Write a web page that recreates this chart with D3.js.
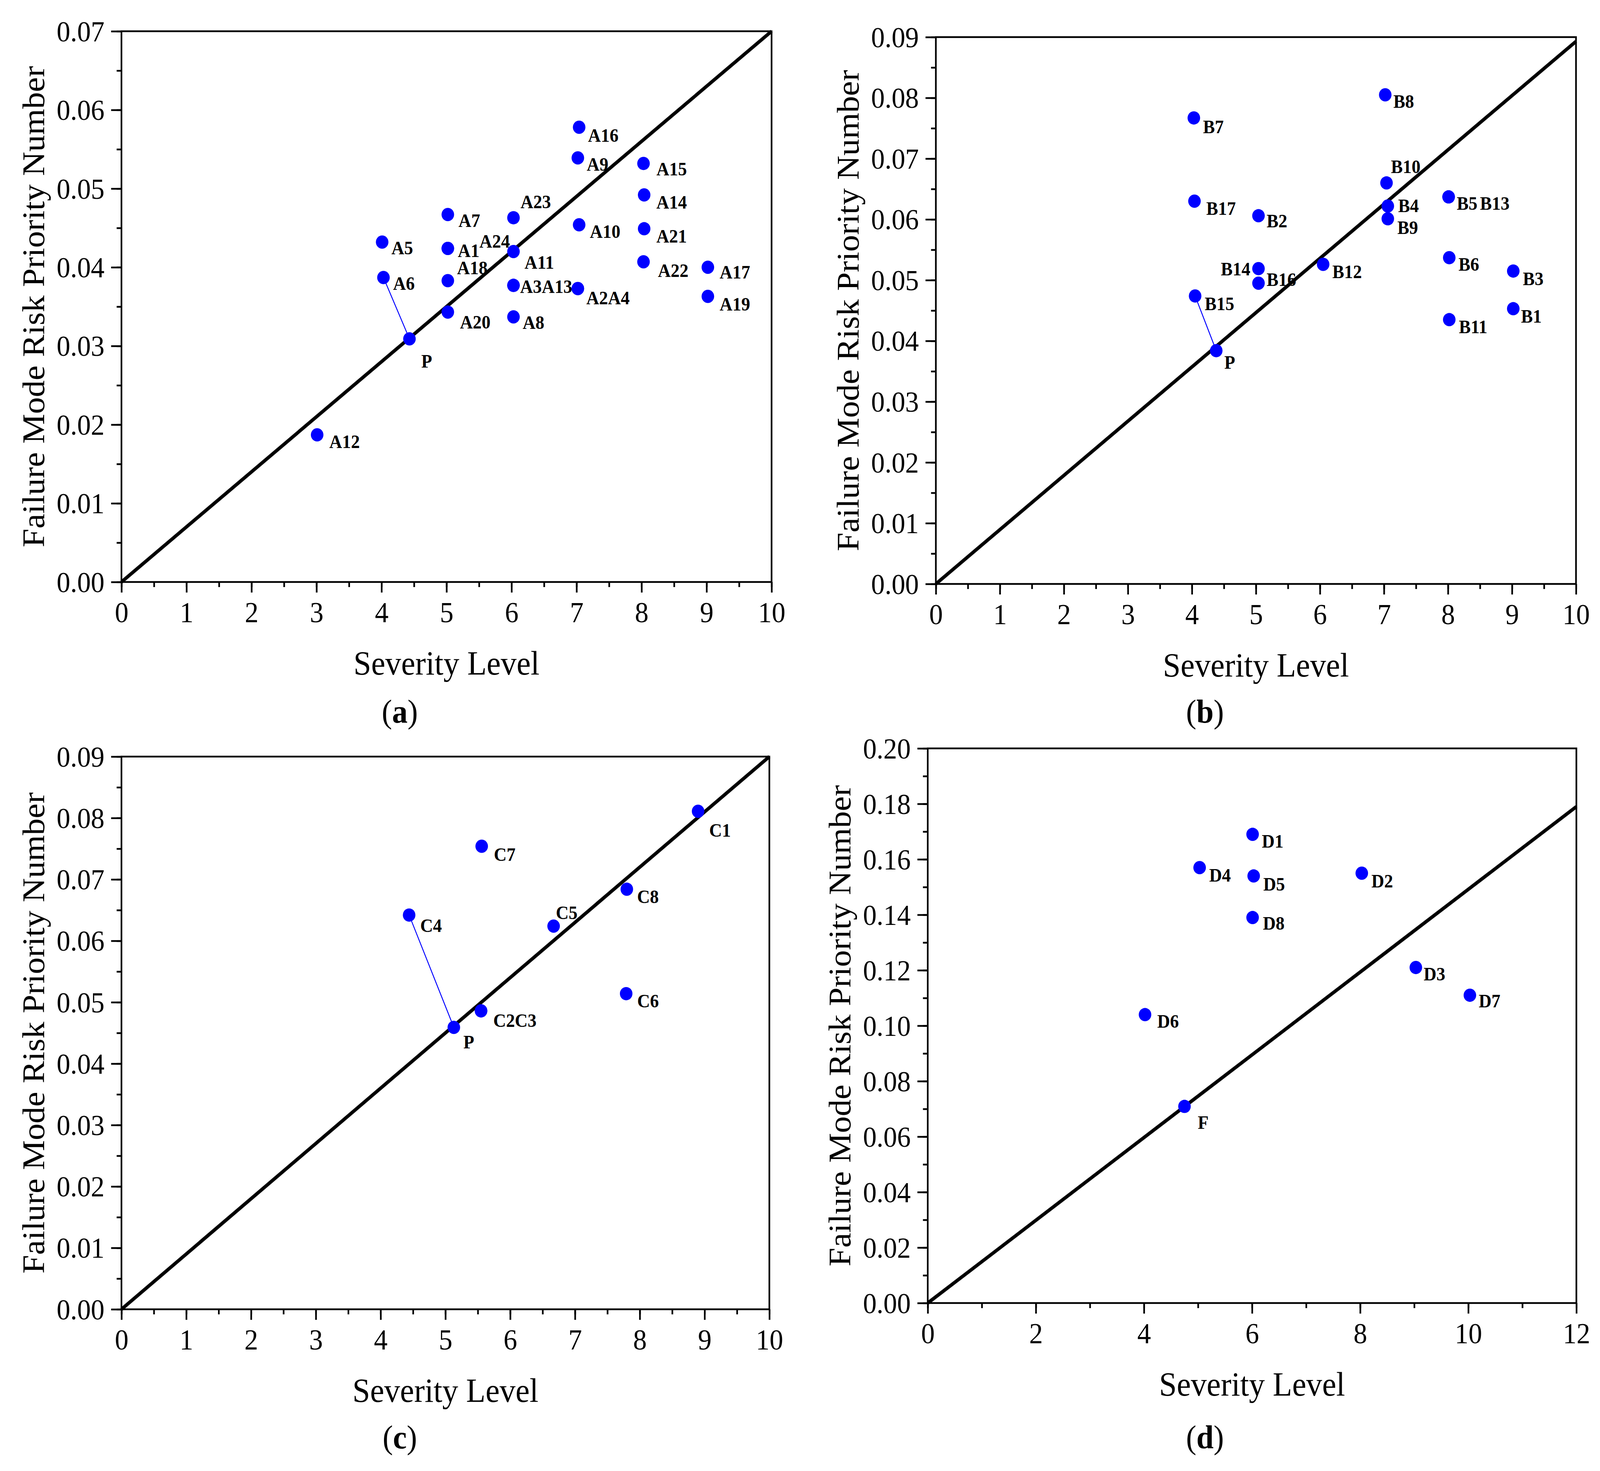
<!DOCTYPE html>
<html>
<head>
<meta charset="utf-8">
<script src="https://cdn.jsdelivr.net/npm/d3@7"></script>
<style>
html,body{margin:0;padding:0;background:#fff;overflow:hidden;}
svg{display:block;}
</style>
</head>
<body>
<svg id="chart"></svg>
<script>
// ---------------- DATA ----------------
// Panel (a)
const namesA    = ["A1","A2","A3","A4","A5","A6","A7","A8","A9","A10","A11","A12","A13","A14","A15","A16","A17","A18","A19","A20","A21","A22","A23","A24","P"];
const severityA = [5.02,7.02,6.03,7.02,4.01,4.03,5.02,6.03,7.02,7.04,6.03,3.01,6.03,8.04,8.03,7.04,9.02,5.02,9.02,5.02,8.04,8.03,6.03,5.02,4.43];
const rpnA      = [0.0424,0.0373,0.0377,0.0373,0.0432,0.0387,0.0467,0.0337,0.0539,0.0454,0.0420,0.0187,0.0377,0.0492,0.0532,0.0578,0.0400,0.0383,0.0363,0.0343,0.0449,0.0407,0.0463,0.0424,0.0309];
const lineEndA  = [10, 0.07];
const connectA  = ["A6","P"];
const xTicksA   = [0,1,2,3,4,5,6,7,8,9,10];
const yTicksA   = [0.00,0.01,0.02,0.03,0.04,0.05,0.06,0.07];

// Panel (b)
const namesB    = ["B1","B2","B3","B4","B5","B6","B7","B8","B9","B10","B11","B12","B13","B14","B15","B16","B17","P"];
const severityB = [9.02,5.04,9.02,7.06,8.01,8.02,4.03,7.02,7.06,7.04,8.02,6.05,8.01,5.04,4.05,5.04,4.04,4.38];
const rpnB      = [0.0453,0.0606,0.0515,0.0622,0.0637,0.0537,0.0767,0.0805,0.0601,0.0660,0.0435,0.0526,0.0637,0.0519,0.0474,0.0495,0.0630,0.0384];
const lineEndB  = [10, 0.0893];
const connectB  = ["B15","P"];
const xTicksB   = [0,1,2,3,4,5,6,7,8,9,10];
const yTicksB   = [0.00,0.01,0.02,0.03,0.04,0.05,0.06,0.07,0.08,0.09];

// Panel (c)
const namesC    = ["C1","C2","C3","C4","C5","C6","C7","C8","P"];
const severityC = [8.90,5.55,5.55,4.44,6.67,7.79,5.56,7.80,5.13];
const rpnC      = [0.0811,0.0486,0.0486,0.0642,0.0624,0.0514,0.0754,0.0684,0.0459];
const lineEndC  = [10, 0.09];
const connectC  = ["C4","P"];
const xTicksC   = [0,1,2,3,4,5,6,7,8,9,10];
const yTicksC   = [0.00,0.01,0.02,0.03,0.04,0.05,0.06,0.07,0.08,0.09];

// Panel (d)
const namesD    = ["D1","D2","D3","D4","D5","D6","D7","D8","F"];
const severityD = [6.01,8.03,9.03,5.03,6.03,4.02,10.03,6.01,4.75];
const rpnD      = [0.169,0.155,0.121,0.157,0.154,0.104,0.111,0.139,0.0709];
const lineEndD  = [12, 0.179];
const connectD  = null;
const xTicksD   = [0,2,4,6,8,10,12];
const yTicksD   = [0.00,0.02,0.04,0.06,0.08,0.10,0.12,0.14,0.16,0.18,0.20];

const xTitle = "Severity Level";
const yTitle = "Failure Mode Risk Priority Number";

// ---------------- LAYOUT / STYLE ----------------
const W = 4334, H = 3766;
const FONT = "'Liberation Serif','Times New Roman',Times,serif";
const BLUE = "#0000ff";
const defaultOffset = {dx: 28, dy: 34};

const offsetsA = {A1:{dx:27,dy:22},A2:{dx:23,dy:40},A3:{dx:18,dy:19},A5:{dx:25,dy:31},A6:{dx:26,dy:32},
  A7:{dx:29,dy:32},A8:{dx:25,dy:31},A9:{dx:24,dy:33},A10:{dx:29,dy:34},A11:{dx:30,dy:44},A12:{dx:33,dy:34},
  A14:{dx:33,dy:35},A15:{dx:35,dy:31},A16:{dx:24,dy:37},A17:{dx:32,dy:29},A18:{dx:25,dy:-17},A19:{dx:32,dy:36},
  A20:{dx:33,dy:42},A21:{dx:33,dy:35},A22:{dx:39,dy:39},A23:{dx:19,dy:-24},P:{dx:32,dy:73}};
const shiftA = {A24: {dx:0, dy:-24}};
const offsetsB = {B1:{dx:21,dy:36},B2:{dx:22,dy:30},B3:{dx:26,dy:36},B4:{dx:28,dy:16},B5:{dx:22,dy:33},
  B6:{dx:25,dy:33},B7:{dx:25,dy:39},B8:{dx:22,dy:33},B9:{dx:26,dy:39},B10:{dx:12,dy:-25},B11:{dx:26,dy:35},
  B12:{dx:25,dy:35},B14:{dx:-22,dy:17,anchor:"end"},B15:{dx:26,dy:36},B16:{dx:22,dy:7},B17:{dx:32,dy:35},P:{dx:22,dy:46}};
const shiftB = {B13: {dx:7, dy:0}};
const offsetsC = {C1:{dx:30,dy:65},C2:{dx:33,dy:41},C4:{dx:30,dy:43},C5:{dx:6,dy:-18},C6:{dx:30,dy:35},
  C7:{dx:33,dy:37},C8:{dx:28,dy:35},P:{dx:26,dy:54}};
const offsetsD = {D1:{dx:25,dy:34},D2:{dx:26,dy:37},D3:{dx:21,dy:33},D4:{dx:26,dy:36},D5:{dx:26,dy:37},
  D6:{dx:33,dy:33},D7:{dx:24,dy:31},D8:{dx:28,dy:31},F:{dx:36,dy:57}};

// The drawing is laid out in a 4334x3766 coordinate space and stretched to fill the viewport.
const vw = window.innerWidth || W, vh = window.innerHeight || H;
const svg = d3.select("#chart")
  .attr("width", vw).attr("height", vh)
  .attr("viewBox", `0 0 ${W} ${H}`)
  .attr("preserveAspectRatio", "none");
svg.append("rect").attr("width", W).attr("height", H).attr("fill", "#fff");

function drawPanel(p) {
  const {l, r, t, b} = p.box;
  const x = d3.scaleLinear().domain([0, p.xMax]).range([l, r]);
  const y = d3.scaleLinear().domain([0, p.yMax]).range([b, t]);
  const g = svg.append("g");

  // minor ticks
  const xMinor = d3.range(0, p.xMax + 1e-9, p.xMinorStep).map(v => +v.toFixed(4));
  const yMinor = d3.range(0, p.yMax + 1e-9, p.yMinorStep).map(v => +v.toFixed(5));
  const gxm = g.append("g").attr("transform", `translate(0,${b})`)
    .call(d3.axisBottom(x).tickValues(xMinor).tickSize(13).tickFormat(""));
  const gym = g.append("g").attr("transform", `translate(${l},0)`)
    .call(d3.axisLeft(y).tickValues(yMinor).tickSize(13).tickFormat(""));
  [gxm, gym].forEach(s => { s.select(".domain").remove(); s.selectAll("line").attr("stroke","#000").attr("stroke-width",4.5); });

  // major ticks
  const gx = g.append("g").attr("transform", `translate(0,${b})`)
    .call(d3.axisBottom(x).tickValues(p.xTicks).tickSize(27).tickFormat(d3.format("d")));
  const gy = g.append("g").attr("transform", `translate(${l},0)`)
    .call(d3.axisLeft(y).tickValues(p.yTicks).tickSize(28).tickFormat(d3.format(".2f")));
  [gx, gy].forEach(s => { s.select(".domain").remove(); s.selectAll("line").attr("stroke","#000").attr("stroke-width",4.5); });
  gx.selectAll("text").attr("font-family", FONT).attr("font-size", 74).attr("fill","#000")
    .attr("y", 103).attr("dy", 0);
  gy.selectAll("text").attr("font-family", FONT).attr("font-size", 74).attr("fill","#000")
    .attr("x", -46).attr("dy", "0.34em");

  // frame
  g.append("rect").attr("x", l).attr("y", t).attr("width", r - l).attr("height", b - t)
    .attr("fill", "none").attr("stroke", "#000").attr("stroke-width", 4.5);

  // diagonal line
  g.append("line")
    .attr("x1", x(0)).attr("y1", y(0))
    .attr("x2", x(p.lineEnd[0])).attr("y2", y(p.lineEnd[1]))
    .attr("stroke", "#000").attr("stroke-width", 9);

  const pts = p.names.map((n, i) => ({name: n, sx: p.sev[i], ry: p.rpn[i]}));
  const byName = Object.fromEntries(pts.map(d => [d.name, d]));

  // connector
  if (p.connect) {
    const a = byName[p.connect[0]], c = byName[p.connect[1]];
    g.append("line").attr("x1", x(a.sx)).attr("y1", y(a.ry)).attr("x2", x(c.sx)).attr("y2", y(c.ry))
      .attr("stroke", BLUE).attr("stroke-width", 2.5);
  }

  // dots
  g.append("g").selectAll("circle").data(pts).join("circle")
    .attr("cx", d => x(d.sx)).attr("cy", d => y(d.ry)).attr("r", 17).attr("fill", BLUE);

  // labels: coincident points share one label
  const groups = new Map();
  pts.forEach(d => {
    const k = d.sx + "|" + d.ry;
    if (!groups.has(k)) groups.set(k, []);
    groups.get(k).push(d);
  });
  groups.forEach(members => {
    const first = members[0];
    const off = p.offsets[first.name] || defaultOffset;
    const txt = g.append("text")
      .attr("x", x(first.sx) + off.dx).attr("y", y(first.ry) + off.dy)
      .attr("font-family", FONT).attr("font-weight", "bold").attr("font-size", 48)
      .attr("text-anchor", off.anchor || "start").attr("fill", "#000");
    members.forEach(m => {
      const s = (p.shift && p.shift[m.name]) || {dx: 0, dy: 0};
      txt.append("tspan").attr("dx", s.dx).attr("dy", s.dy).text(m.name);
    });
  });

  // axis titles
  g.append("text").attr("x", (l + r) / 2).attr("y", b + 237)
    .attr("text-anchor", "middle").attr("font-family", FONT).attr("font-size", 86).attr("fill","#000")
    .text(xTitle);
  g.append("text")
    .attr("transform", `translate(${l - 235},${(t + b) / 2}) rotate(-90)`)
    .attr("text-anchor", "middle").attr("dy", "0.3em")
    .attr("font-family", FONT).attr("font-size", 86).attr("fill","#000")
    .text(yTitle);

  // caption
  const cap = g.append("text").attr("x", p.capX).attr("y", p.capY).attr("text-anchor", "middle")
    .attr("font-family", FONT).attr("font-size", 84).attr("fill","#000");
  cap.append("tspan").text("(");
  cap.append("tspan").attr("font-weight", "bold").text(p.caption);
  cap.append("tspan").text(")");
}

drawPanel({names: namesA, sev: severityA, rpn: rpnA, lineEnd: lineEndA, connect: connectA,
  xMax: 10, yMax: 0.07, xTicks: xTicksA, yTicks: yTicksA, xMinorStep: 0.5, yMinorStep: 0.005,
  box: {l: 329, r: 2090, t: 80, b: 1490}, offsets: offsetsA, shift: shiftA,
  caption: "a", capX: 1083, capY: 1850});

drawPanel({names: namesB, sev: severityB, rpn: rpnB, lineEnd: lineEndB, connect: connectB,
  xMax: 10, yMax: 0.09, xTicks: xTicksB, yTicks: yTicksB, xMinorStep: 0.5, yMinorStep: 0.005,
  box: {l: 2535, r: 4269, t: 95, b: 1495}, offsets: offsetsB, shift: shiftB,
  caption: "b", capX: 3264, capY: 1850});

drawPanel({names: namesC, sev: severityC, rpn: rpnC, lineEnd: lineEndC, connect: connectC,
  xMax: 10, yMax: 0.09, xTicks: xTicksC, yTicks: yTicksC, xMinorStep: 0.5, yMinorStep: 0.005,
  box: {l: 329, r: 2084, t: 1937, b: 3352}, offsets: offsetsC, shift: {},
  caption: "c", capX: 1083, capY: 3708});

drawPanel({names: namesD, sev: severityD, rpn: rpnD, lineEnd: lineEndD, connect: connectD,
  xMax: 12, yMax: 0.20, xTicks: xTicksD, yTicks: yTicksD, xMinorStep: 1, yMinorStep: 0.01,
  box: {l: 2513, r: 4270, t: 1916, b: 3336}, offsets: offsetsD, shift: {},
  caption: "d", capX: 3264, capY: 3708});
</script>
</body>
</html>
